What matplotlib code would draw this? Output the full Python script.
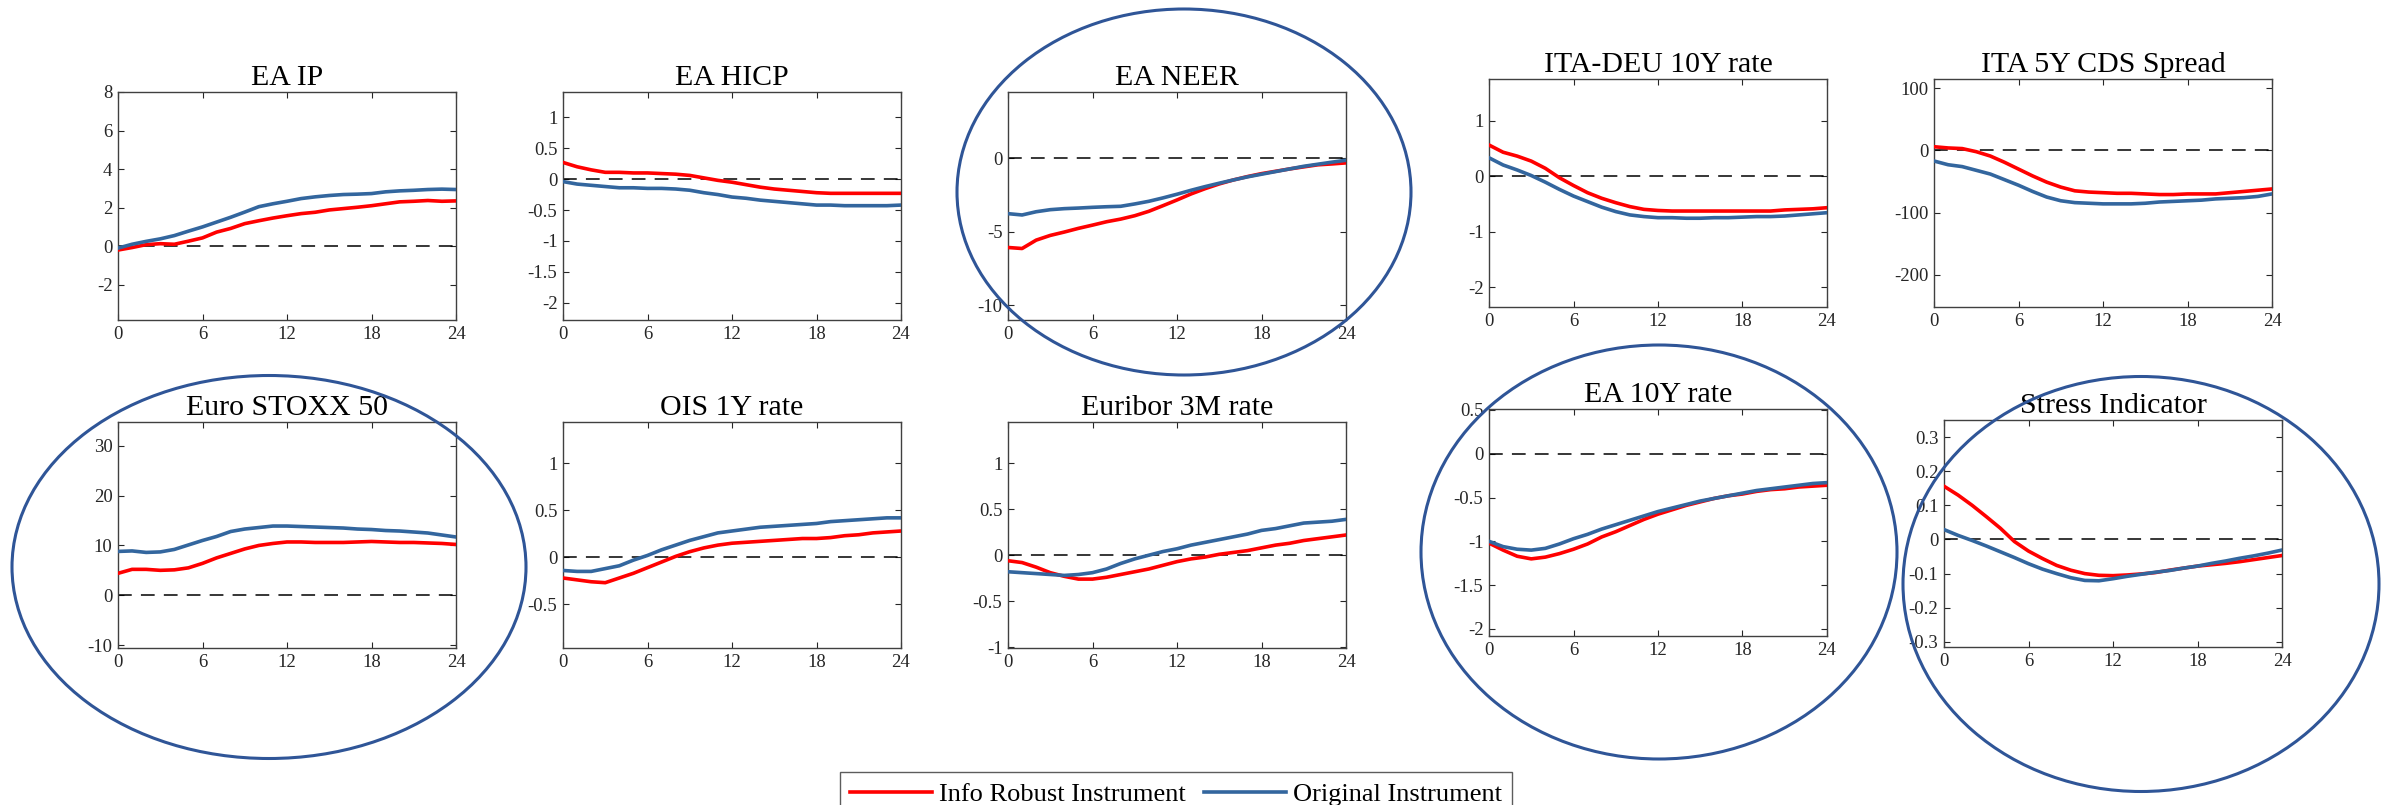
import matplotlib
matplotlib.use("Agg")
import matplotlib.pyplot as plt
from matplotlib.patches import Ellipse
from matplotlib.lines import Line2D

plt.rcParams['font.family'] = ['Liberation Serif', 'DejaVu Serif']
plt.rcParams['axes.unicode_minus'] = False

horizon = list(range(25))

# impulse responses (robust = red, original = blue)
ea_ip_robust = [-0.2, -0.07, 0.08, 0.13, 0.1, 0.26, 0.43, 0.73, 0.92, 1.17, 1.32, 1.46, 1.58,
                1.69, 1.76, 1.88, 1.95, 2.02, 2.1, 2.2, 2.3, 2.33, 2.37, 2.33, 2.35]
ea_ip_orig = [-0.1, 0.1, 0.25, 0.38, 0.55, 0.78, 1.0, 1.25, 1.5, 1.77, 2.05, 2.2, 2.33,
              2.47, 2.56, 2.63, 2.68, 2.7, 2.73, 2.82, 2.87, 2.9, 2.94, 2.96, 2.94]

hicp_robust = [0.27, 0.2, 0.15, 0.11, 0.11, 0.1, 0.1, 0.09, 0.08, 0.06, 0.02, -0.02, -0.05,
               -0.09, -0.13, -0.16, -0.18, -0.2, -0.22, -0.23, -0.23, -0.23, -0.23, -0.23, -0.23]
hicp_orig = [-0.04, -0.08, -0.1, -0.12, -0.14, -0.14, -0.15, -0.15, -0.16, -0.18, -0.22, -0.25, -0.29,
             -0.31, -0.34, -0.36, -0.38, -0.4, -0.42, -0.42, -0.43, -0.43, -0.43, -0.43, -0.42]

neer_robust = [-6.07, -6.14, -5.57, -5.25, -5.02, -4.77, -4.55, -4.32, -4.14, -3.91, -3.61, -3.23, -2.84,
               -2.43, -2.07, -1.75, -1.48, -1.25, -1.05, -0.89, -0.73, -0.59, -0.45, -0.39, -0.32]
neer_orig = [-3.77, -3.86, -3.64, -3.5, -3.43, -3.39, -3.34, -3.3, -3.27, -3.11, -2.93, -2.7, -2.45,
             -2.18, -1.93, -1.7, -1.48, -1.27, -1.09, -0.91, -0.73, -0.55, -0.41, -0.27, -0.14]

itadeu_robust = [0.56, 0.43, 0.36, 0.27, 0.14, -0.03, -0.17, -0.3, -0.4, -0.48, -0.55, -0.6, -0.62,
                 -0.63, -0.63, -0.63, -0.63, -0.63, -0.63, -0.63, -0.63, -0.61, -0.6, -0.59, -0.57]
itadeu_orig = [0.33, 0.2, 0.11, 0.01, -0.11, -0.24, -0.36, -0.46, -0.56, -0.64, -0.7, -0.73, -0.75,
               -0.75, -0.76, -0.76, -0.75, -0.75, -0.74, -0.73, -0.73, -0.72, -0.7, -0.68, -0.66]

cds_robust = [6, 4, 3, -2, -9, -19, -30, -41, -51, -59, -65, -67, -68,
              -69, -69, -70, -71, -71, -70, -70, -70, -68, -66, -64, -62]
cds_orig = [-17, -23, -26, -32, -38, -47, -56, -66, -75, -81, -84, -85, -86,
            -86, -86, -85, -83, -82, -81, -80, -78, -77, -76, -74, -70]

stoxx_robust = [4.4, 5.2, 5.2, 5.0, 5.1, 5.5, 6.4, 7.5, 8.4, 9.3, 10.0, 10.4, 10.7,
                10.7, 10.6, 10.6, 10.6, 10.7, 10.8, 10.7, 10.6, 10.6, 10.5, 10.4, 10.2]
stoxx_orig = [8.8, 8.9, 8.6, 8.7, 9.2, 10.1, 11.0, 11.8, 12.8, 13.3, 13.6, 13.9, 13.9,
              13.8, 13.7, 13.6, 13.5, 13.3, 13.2, 13.0, 12.9, 12.7, 12.5, 12.1, 11.7]

ois_robust = [-0.22, -0.24, -0.26, -0.27, -0.22, -0.17, -0.11, -0.05, 0.01, 0.06, 0.1, 0.13, 0.15,
              0.16, 0.17, 0.18, 0.19, 0.2, 0.2, 0.21, 0.23, 0.24, 0.26, 0.27, 0.28]
ois_orig = [-0.14, -0.15, -0.15, -0.12, -0.09, -0.03, 0.02, 0.08, 0.13, 0.18, 0.22, 0.26, 0.28,
            0.3, 0.32, 0.33, 0.34, 0.35, 0.36, 0.38, 0.39, 0.4, 0.41, 0.42, 0.42]

euribor_robust = [-0.06, -0.08, -0.13, -0.19, -0.23, -0.26, -0.26, -0.24, -0.21, -0.18, -0.15, -0.11, -0.07,
                  -0.04, -0.02, 0.01, 0.03, 0.05, 0.08, 0.11, 0.13, 0.16, 0.18, 0.2, 0.22]
euribor_orig = [-0.18, -0.19, -0.2, -0.21, -0.22, -0.21, -0.19, -0.15, -0.09, -0.04, 0.0, 0.04, 0.07,
                0.11, 0.14, 0.17, 0.2, 0.23, 0.27, 0.29, 0.32, 0.35, 0.36, 0.37, 0.39]

ea10y_robust = [-1.02, -1.1, -1.17, -1.2, -1.18, -1.14, -1.09, -1.03, -0.95, -0.89, -0.82, -0.75, -0.69,
                -0.64, -0.59, -0.55, -0.51, -0.48, -0.46, -0.43, -0.41, -0.4, -0.38, -0.37, -0.36]
ea10y_orig = [-1.0, -1.06, -1.09, -1.1, -1.08, -1.03, -0.97, -0.92, -0.86, -0.81, -0.76, -0.71, -0.66,
              -0.62, -0.58, -0.54, -0.51, -0.48, -0.45, -0.42, -0.4, -0.38, -0.36, -0.34, -0.33]

stress_robust = [0.156, 0.13, 0.1, 0.067, 0.033, -0.006, -0.034, -0.056, -0.076, -0.09, -0.1, -0.105, -0.106,
                 -0.104, -0.101, -0.097, -0.09, -0.084, -0.078, -0.074, -0.07, -0.065, -0.059, -0.053, -0.047]
stress_orig = [0.029, 0.012, -0.003, -0.019, -0.036, -0.053, -0.071, -0.087, -0.1, -0.112, -0.12, -0.121, -0.115,
               -0.108, -0.102, -0.096, -0.091, -0.084, -0.078, -0.07, -0.063, -0.055, -0.048, -0.04, -0.031]

titles = ['EA IP', 'EA HICP', 'EA NEER', 'ITA-DEU 10Y rate', 'ITA 5Y CDS Spread',
          'Euro STOXX 50', 'OIS 1Y rate', 'Euribor 3M rate', 'EA 10Y rate', 'Stress Indicator']
robust = [ea_ip_robust, hicp_robust, neer_robust, itadeu_robust, cds_robust,
          stoxx_robust, ois_robust, euribor_robust, ea10y_robust, stress_robust]
original = [ea_ip_orig, hicp_orig, neer_orig, itadeu_orig, cds_orig,
            stoxx_orig, ois_orig, euribor_orig, ea10y_orig, stress_orig]
yticks = [[-2, 0, 2, 4, 6, 8],
          [-2, -1.5, -1, -0.5, 0, 0.5, 1],
          [-10, -5, 0],
          [-2, -1, 0, 1],
          [-200, -100, 0, 100],
          [-10, 0, 10, 20, 30],
          [-0.5, 0, 0.5, 1],
          [-1, -0.5, 0, 0.5, 1],
          [-2, -1.5, -1, -0.5, 0, 0.5],
          [-0.3, -0.2, -0.1, 0, 0.1, 0.2, 0.3]]
ylims = [(-3.83, 8), (-2.28, 1.41), (-11, 4.5), (-2.36, 1.75), (-252, 115),
         (-10.6, 34.8), (-0.965, 1.44), (-1.01, 1.45), (-2.08, 0.51), (-0.315, 0.35)]

W, H = 2394, 805
# axes boxes in pixels: left, top, bottom
boxes = [(118, 92, 320), (563, 92, 320), (1008, 92, 320), (1489, 79, 307), (1934, 79, 307),
         (118, 422, 648), (563, 422, 648), (1008, 422, 648), (1489, 409, 636), (1944, 420, 647)]
axw = 338

red = '#FF0000'
blue = '#33669E'
ring = '#2F5597'

fig = plt.figure(figsize=(W / 100, H / 100), dpi=100)

for i in range(10):
    l, t, b = boxes[i]
    ax = fig.add_axes([l / W, 1 - b / H, axw / W, (b - t) / H])
    ax.plot(horizon, robust[i], color=red, lw=2.6, zorder=3)
    ax.plot(horizon, original[i], color=blue, lw=2.6, zorder=3)
    ax.axhline(0, color='black', lw=1.1, ls=(0, (9, 6)), zorder=2)
    ax.set_xlim(0, 24)
    ax.set_ylim(*ylims[i])
    ax.set_xticks([0, 6, 12, 18, 24])
    ax.set_yticks(yticks[i])
    ax.set_yticklabels([('%g' % v) for v in yticks[i]])
    ax.tick_params(direction='in', top=True, right=True, length=4, width=0.8,
                   labelsize=13.5, colors='#262626', pad=4)
    for s in ax.spines.values():
        s.set_color('#404040')
        s.set_linewidth(1.0)
    ax.set_title(titles[i], fontsize=21.5, pad=5)

# highlight rings
rings = [(1184, 192, 454, 366), (269, 567, 514, 383), (1659, 552, 476, 414), (2141, 584, 476, 415)]
for cx, cy, w, h in rings:
    e = Ellipse((cx / W, 1 - cy / H), w / W, h / H, transform=fig.transFigure,
                fill=False, edgecolor=ring, lw=2.2, zorder=10)
    fig.add_artist(e)

handles = [Line2D([], [], color=red, lw=2.6), Line2D([], [], color=blue, lw=2.6)]
leg = fig.legend(handles, ['Info Robust Instrument', 'Original Instrument'], loc='upper center',
                 bbox_to_anchor=(1176 / W, 1 - 772 / H), ncol=2, fontsize=19, frameon=True,
                 fancybox=False, edgecolor='#333333', handlelength=3.1, columnspacing=0.7,
                 handletextpad=0.25, borderpad=0.4, borderaxespad=0)
leg.get_frame().set_linewidth(1.0)

fig.savefig('out.png', dpi=100)
